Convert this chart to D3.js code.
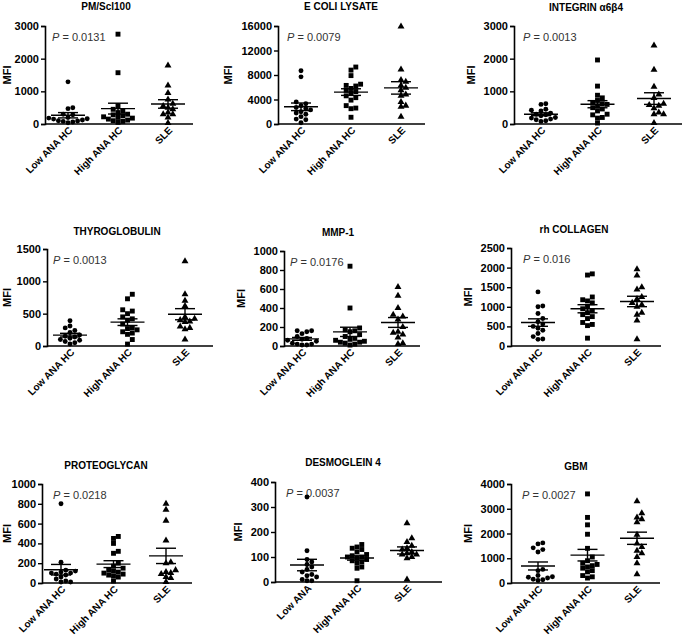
<!DOCTYPE html>
<html><head><meta charset="utf-8">
<script src="https://cdn.jsdelivr.net/npm/d3@7"></script>
<style>body{margin:0;background:#fff}svg{display:block}</style>
</head><body>
<svg id="c" width="685" height="638"></svg>
<script>
// ---------- data ----------
const categories = ["Low ANA HC", "High ANA HC", "SLE"];
const categoriesDsg = ["Low ANA", "High ANA HC", "SLE"];
const titles = ["PM/Scl100", "E COLI LYSATE", "INTEGRIN \u03b16\u03b24", "THYROGLOBULIN", "MMP-1", "rh COLLAGEN", "PROTEOGLYCAN", "DESMOGLEIN 4", "GBM"];
const pValues = ["0.0131", "0.0079", "0.0013", "0.0013", "0.0176", "0.016", "0.0218", "0.0037", "0.0027"];
const yMaxes = [3000, 16000, 3000, 1500, 1000, 2500, 1000, 400, 4000];
const yTickSteps = [1000, 4000, 1000, 500, 200, 500, 200, 100, 1000];

const pmLow  = [1290, 500, 470, 300, 280, 200, 180, 160, 150, 120, 100, 90, 80, 60, 40];
const pmHigh = [2750, 1570, 560, 450, 400, 350, 300, 280, 250, 220, 200, 180, 150, 120, 100, 80, 50];
const pmSle  = [1790, 1180, 950, 750, 620, 550, 500, 450, 350, 300, 300, 200, 30];

const ecLow  = [8700, 7700, 3600, 3300, 3000, 2700, 2500, 2300, 2000, 1800, 1600, 1200, 800, 700, 200];
const ecHigh = [9300, 8800, 7900, 6500, 6300, 6200, 5800, 5500, 5300, 5000, 4600, 4300, 3900, 3000, 2600, 2500, 1100];
const ecSle  = [15900, 8900, 7200, 6900, 6300, 5900, 5500, 4800, 4600, 3600, 3000, 2800, 1200];

const inLow  = [620, 600, 450, 420, 400, 330, 300, 280, 250, 200, 180, 150, 130, 100, 80];
const inHigh = [1960, 1160, 880, 800, 720, 660, 620, 600, 550, 500, 460, 400, 300, 280, 200, 180, 30];
const inSle  = [2400, 1660, 1140, 900, 800, 620, 580, 560, 480, 350, 300, 300, 30];

const thLow  = [390, 310, 280, 240, 210, 170, 150, 140, 120, 100, 90, 70, 50, 30];
const thHigh = [800, 730, 560, 540, 500, 450, 420, 400, 340, 270, 280, 250, 220, 200, 180, 100, 30];
const thSle  = [1310, 800, 700, 620, 450, 420, 400, 380, 370, 300, 280, 260, 100];

const mmLow  = [160, 160, 150, 130, 100, 80, 70, 60, 50, 30, 20, 20, 10, 10];
const mmHigh = [840, 400, 190, 170, 160, 150, 120, 100, 80, 70, 60, 50, 40, 40, 30, 20, 10];
const mmSle  = [620, 530, 400, 330, 310, 280, 200, 150, 140, 120, 90, 30, 20];

const coLow  = [1380, 1020, 1000, 830, 700, 620, 560, 500, 450, 400, 320, 240, 180, 170];
const coHigh = [1840, 1810, 1250, 1180, 1150, 1100, 1000, 950, 900, 850, 800, 750, 700, 600, 550, 520, 200];
const coSle  = [1960, 1800, 1500, 1440, 1250, 1200, 1100, 1050, 1000, 850, 800, 650, 170];

const prLow  = [800, 210, 130, 120, 110, 100, 100, 90, 80, 60, 40, 20, 10, 10];
const prHigh = [470, 450, 400, 320, 300, 200, 170, 150, 130, 120, 110, 100, 90, 80, 70, 60, 20];
const prSle  = [800, 740, 630, 430, 210, 200, 130, 110, 100, 90, 60, 50, 10];

const dsLow  = [340, 125, 90, 80, 70, 60, 50, 40, 30, 25, 20, 10, 5, 5];
const dsHigh = [150, 140, 135, 130, 120, 110, 105, 100, 100, 95, 90, 85, 80, 75, 60, 55, 5];
const dsSle  = [235, 175, 160, 145, 135, 130, 120, 115, 110, 110, 100, 95, 10];

const gbLow  = [1620, 1580, 1420, 1350, 1250, 550, 500, 300, 250, 230, 200, 150, 130, 100];
const gbHigh = [3600, 2650, 2350, 1970, 1400, 1050, 900, 800, 750, 700, 650, 600, 500, 450, 300, 250, 200];
const gbSle  = [3300, 2820, 2650, 2580, 2450, 1950, 1600, 1450, 1300, 1200, 1050, 800, 350];

const panelValues = [
  [pmLow, pmHigh, pmSle], [ecLow, ecHigh, ecSle], [inLow, inHigh, inSle],
  [thLow, thHigh, thSle], [mmLow, mmHigh, mmSle], [coLow, coHigh, coSle],
  [prLow, prHigh, prSle], [dsLow, dsHigh, dsSle], [gbLow, gbHigh, gbSle]
];

// ---------- layout ----------
const layout = [
  {x0: 45,  x1: 193, top: 26,  zero: 124, c0: 68,  c2: 168, tx: 106, ty: 10,  px: 7},
  {x0: 278, x1: 425, top: 26,  zero: 124, c0: 301, c2: 401, tx: 341, ty: 10,  px: 9},
  {x0: 514, x1: 682, top: 26,  zero: 124, c0: 541, c2: 654, tx: 586, ty: 11,  px: 9},
  {x0: 47,  x1: 213, top: 249, zero: 346, c0: 70,  c2: 185, tx: 117, ty: 235, px: 6},
  {x0: 284, x1: 420, top: 251, zero: 346, c0: 302, c2: 398, tx: 338, ty: 236, px: 6},
  {x0: 511, x1: 661, top: 248, zero: 346, c0: 538, c2: 637, tx: 574, ty: 233, px: 12},
  {x0: 42,  x1: 192, top: 484, zero: 583, c0: 61,  c2: 166, tx: 106, ty: 469, px: 11},
  {x0: 275, x1: 442, top: 482, zero: 582, c0: 307, c2: 407, tx: 343, ty: 466, px: 11},
  {x0: 511, x1: 660, top: 484, zero: 583, c0: 538, c2: 637, tx: 576, ty: 470, px: 11}
];

const FONT = "'Liberation Sans', Arial, Helvetica, sans-serif";
const svg = d3.select("#c");
const shapes = [
  d3.symbol().type(d3.symbolCircle).size(19),
  d3.symbol().type(d3.symbolSquare).size(24),
  d3.symbol().type(d3.symbolTriangle).size(21)
];

function swarm(vals, y, cx, d) {
  const sorted = vals.map((v, i) => ({v, i})).sort((a, b) => a.v - b.v);
  const placed = [];
  sorted.forEach(p => {
    const py = y(p.v);
    let k = 0, off = 0;
    for (;;) {
      const cands = k === 0 ? [0] : [k * d, -k * d];
      let ok = null;
      for (const c of cands) {
        if (placed.every(q => Math.hypot(q.x - (cx + c), q.y - py) >= d)) { ok = c; break; }
      }
      if (ok !== null) { off = ok; break; }
      k++;
    }
    placed.push({x: cx + off, y: py, v: p.v});
  });
  return placed;
}

panelValues.forEach((groups, pi) => {
  const L = layout[pi];
  const cats = pi === 7 ? categoriesDsg : categories;
  const g = svg.append("g");
  const y = d3.scaleLinear().domain([0, yMaxes[pi]]).range([L.zero, L.top]);
  const x = d3.scalePoint().domain(cats).range([L.c0, L.c2]);

  // y axis
  const ticks = d3.range(0, yMaxes[pi] + 1, yTickSteps[pi]);
  const ya = g.append("g").attr("transform", `translate(${L.x0},0)`)
    .call(d3.axisLeft(y).tickValues(ticks).tickFormat(d3.format("d")).tickSize(4).tickPadding(2));
  ya.select(".domain").attr("stroke", "#000").attr("stroke-width", 1.6);
  ya.selectAll(".tick line").attr("stroke", "#000").attr("stroke-width", 1.4);
  ya.selectAll(".tick text").attr("font-family", FONT).attr("font-weight", "bold")
    .attr("font-size", 11).attr("fill", "#000");
  let labelLeft = L.x0;
  ya.selectAll(".tick text").each(function () {
    const b = this.getBBox();
    labelLeft = Math.min(labelLeft, L.x0 + b.x);
  });

  // x axis line
  g.append("line").attr("x1", L.x0).attr("x2", L.x1).attr("y1", L.zero).attr("y2", L.zero)
    .attr("stroke", "#000").attr("stroke-width", 1.6);

  // category labels
  cats.forEach(c => {
    g.append("text").attr("transform", `translate(${x(c) + 5},${L.zero + 7}) rotate(-45)`)
      .attr("text-anchor", "end").attr("font-family", FONT).attr("font-weight", "bold")
      .attr("font-size", 10).attr("fill", "#000").text(c);
  });

  // title
  g.append("text").attr("x", L.tx).attr("y", L.ty).attr("text-anchor", "middle")
    .attr("font-family", FONT).attr("font-weight", "bold").attr("font-size", 10).attr("fill", "#000")
    .text(titles[pi]);

  // MFI
  g.append("text").attr("transform", `translate(${Math.max(11, labelLeft - 9)},${(L.top + L.zero) / 2}) rotate(-90)`)
    .attr("text-anchor", "middle").attr("font-family", FONT).attr("font-weight", "bold")
    .attr("font-size", 11).attr("fill", "#000").text("MFI");

  // P value
  const pt = g.append("text").attr("x", L.x0 + L.px).attr("y", L.top + 15)
    .attr("font-family", FONT).attr("font-size", 11).attr("fill", "#333");
  pt.append("tspan").attr("font-style", "italic").text("P");
  pt.append("tspan").text(" = " + pValues[pi]);

  // points + mean/SEM
  groups.forEach((vals, gi) => {
    const cx = x(cats[gi]);
    const pts = swarm(vals, y, cx, 4.8);
    g.append("g").selectAll("path").data(pts).join("path")
      .attr("transform", d => `translate(${d.x},${d.y})`)
      .attr("d", shapes[gi]).attr("fill", "#000");
    const m = d3.mean(vals);
    const sem = d3.deviation(vals) / Math.sqrt(vals.length);
    const ln = (x1, x2, y1, y2) => g.append("line").attr("x1", x1).attr("x2", x2)
      .attr("y1", y1).attr("y2", y2).attr("stroke", "#000").attr("stroke-width", 1.4);
    ln(cx - 17, cx + 17, y(m), y(m));
    ln(cx - 10, cx + 10, y(m + sem), y(m + sem));
    ln(cx - 10, cx + 10, y(m - sem), y(m - sem));
    ln(cx, cx, y(m - sem), y(m + sem));
  });
});
</script>
</body></html>
